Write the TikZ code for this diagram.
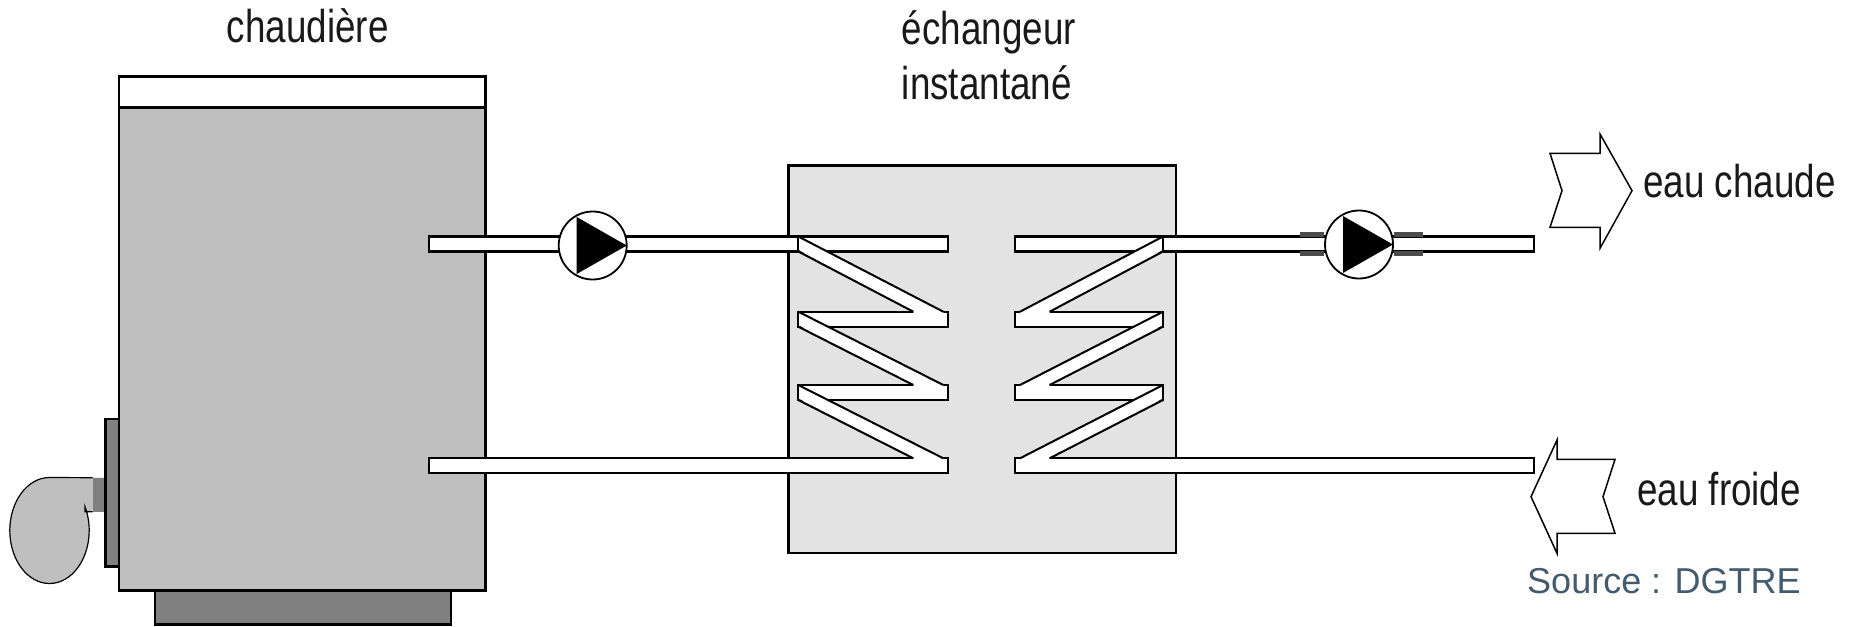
\documentclass[tikz,border=0pt]{standalone}
\usepackage{fontspec}
\setmainfont{Liberation Sans}
\newfontfamily\narrowfont{Liberation Sans}[FakeStretch=0.8]
\definecolor{boilergray}{HTML}{BFBFBF}
\definecolor{darkgr}{HTML}{808080}
\definecolor{exgray}{HTML}{E3E3E3}
\definecolor{srccol}{HTML}{435B6D}
\begin{document}
\begin{tikzpicture}[x=1pt,y=-1pt,
  outl/.style={draw=black,line width=2.6pt},
  pipe/.style={draw=black,fill=white,line width=2.2pt},
  bandedge/.style={draw=black,line width=2pt},
  pumpc/.style={draw=black,fill=white,line width=1.8pt},
  flow/.style={draw=black,fill=white,line width=1.5pt,line join=miter},
  coupl/.style={draw=black!70,line width=4.5pt},
  lbl/.style={font=\narrowfont\fontsize{46}{53}\selectfont,anchor=base west,inner sep=0pt,text=black!90}]
\useasboundingbox (0,0) rectangle (1851,626);

% boiler
\filldraw[fill=darkgr,outl] (155,590.7) rectangle (451,624.5);
\filldraw[fill=boilergray,outl] (119,107.7) rectangle (485.7,590.7);
\filldraw[fill=white,outl] (119,76.7) rectangle (485.7,107.7);
% fan
\fill[boilergray] (105.7,477.7) -- (49.5,477.5) arc[start angle=270,end angle=-26.6,x radius=39.7,y radius=53] -- (85,511.7) -- (105.7,511.7) -- cycle;
\fill[darkgr] (92.7,477.7) rectangle (105.7,511.7);
\draw[line width=1.2pt] (92.7,477.7) -- (49.5,477.5) arc[start angle=270,end angle=-26.6,x radius=39.7,y radius=53] -- (85,511.7) -- (92.7,511.7);
% burner plate
\filldraw[fill=darkgr,outl] (105.7,419) rectangle (119,566.7);

% exchanger
\filldraw[fill=exgray,outl] (788.3,165.7) rectangle (1176,553);

% pipes
\filldraw[pipe] (429,236.5) rectangle (798.3,251.5);
\filldraw[pipe] (429,458.3) rectangle (948.3,473.3);
\filldraw[pipe] (1163,236.5) rectangle (1534,251.5);
\filldraw[pipe] (1015,458.3) rectangle (1534,473.3);
\foreach \t in {236.5,311.7,385}{
  \filldraw[pipe] (798.3,\t) rectangle (948.3,\t+15);
  \filldraw[pipe] (1015,\t) rectangle (1163,\t+15);
}
% coil bands
\foreach \t/\u in {236.5/311.7,311.7/385,385/458.3}{
  \fill[white] (799.5,\t+1.2) -- (943.3,\u) -- (943.3,\u+1.3) -- (913.3,\u+1.3) -- (913.3,\u) -- (799.5,\t+14) -- cycle;
  \draw[bandedge] (798.3,\t) -- (943.3,\u);
  \draw[bandedge] (798.3,\t+15) -- (913.3,\u);
  \fill[white] (1161.8,\t+1.2) -- (1020,\u) -- (1020,\u+1.3) -- (1049.6,\u+1.3) -- (1049.6,\u) -- (1161.8,\t+14) -- cycle;
  \draw[bandedge] (1163,\t) -- (1020,\u);
  \draw[bandedge] (1163,\t+15) -- (1049.6,\u);
}

% pumps
\coordinate (p1) at (592.7,245.5);
\coordinate (p2) at (1359,244.5);
\foreach \p in {p1,p2}{
  \filldraw[pumpc] (\p) circle[radius=34];
  \fill[black] ([shift={(-16,-28.5)}]\p) -- ([shift={(34,0)}]\p) -- ([shift={(-16,28.5)}]\p) -- cycle;
}
\draw[coupl] (1300,234.6) -- (1324,234.6);
\draw[coupl] (1300,253.4) -- (1324,253.4);
\draw[coupl] (1394,234.6) -- (1423,234.6);
\draw[coupl] (1394,253.4) -- (1423,253.4);

% flow arrows
\filldraw[flow] (1550,153.3) -- (1600,153.3) -- (1600,134) -- (1632,190.7) -- (1600,248.3) -- (1600,227.3) -- (1550,227.3) -- (1562,190.7) -- cycle;
\filldraw[flow] (1531,496.7) -- (1557,440) -- (1557,459.3) -- (1615,459.3) -- (1603,496.7) -- (1615,533.3) -- (1557,533.3) -- (1557,553.3) -- cycle;

% labels
\node[lbl] (chaud) at (226.7,42) {chaudière};
\node[lbl] (ech1) at (901.7,45) {échangeur};
\node[lbl] (ech2) at (901.7,99) {instantané};
\node[lbl] (ec) at (1643,197) {eau chaude};
\node[lbl] (ef) at (1637,505) {eau froide};
\node[anchor=base west,inner sep=0pt,text=srccol,font=\fontsize{36}{41}\selectfont] (src) at (1527,593) {Source : DGTRE};
\end{tikzpicture}
\end{document}
